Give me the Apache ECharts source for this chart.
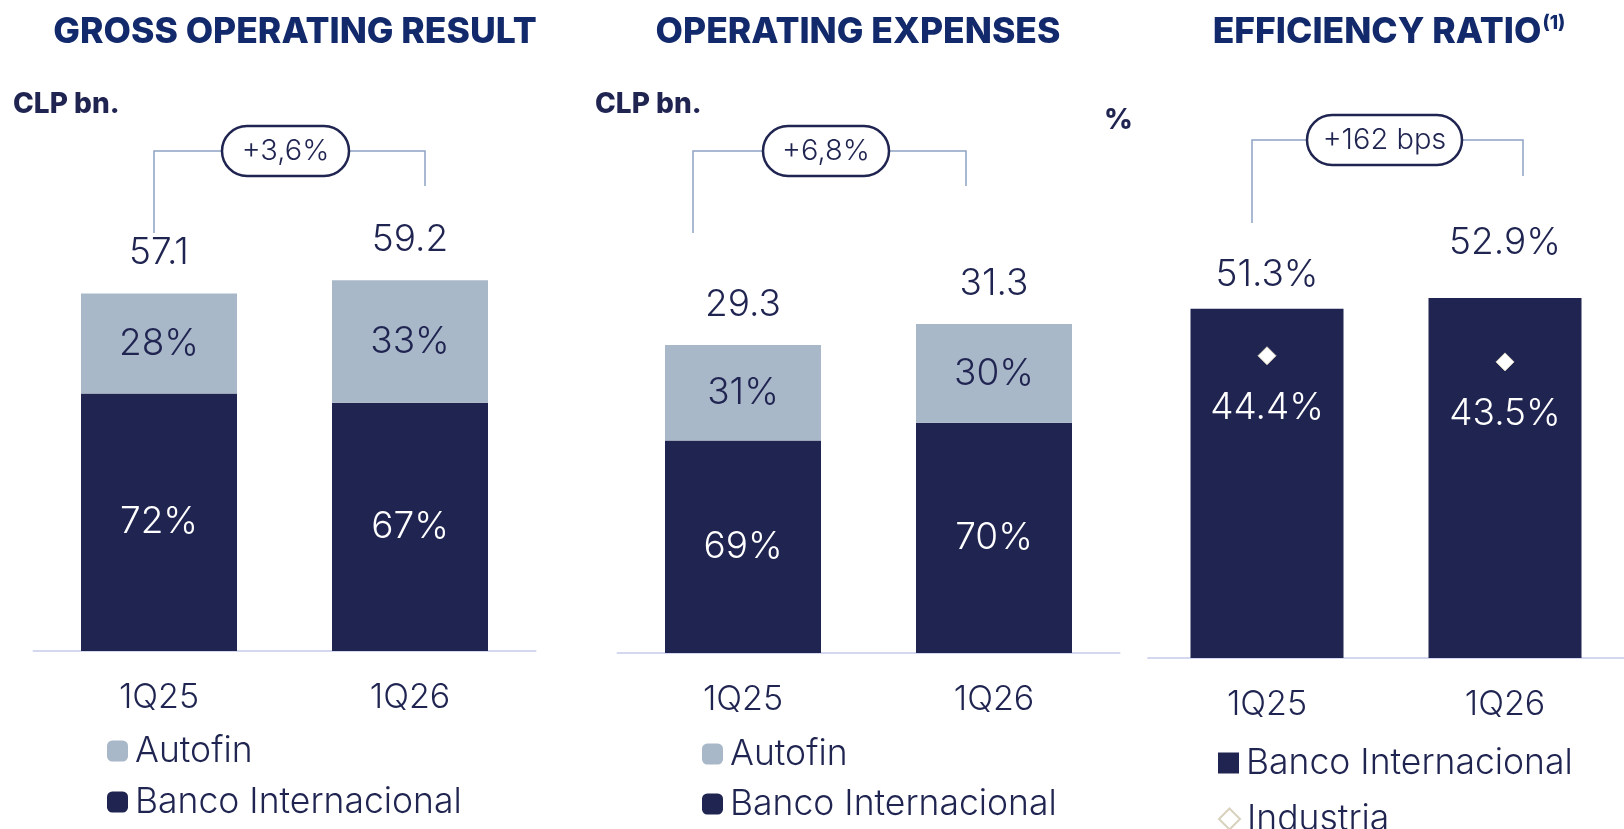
<!DOCTYPE html>
<html>
<head>
<meta charset="utf-8">
<script src="https://cdn.jsdelivr.net/npm/echarts@6/dist/echarts.min.js"></script>
<style>
  html, body { margin: 0; padding: 0; background: #fff; }
  #chart { width: 1624px; height: 829px; }
</style>
</head>
<body>
<div id="chart"></div>
<script>
const QUARTERS = ['1Q25', '1Q26'];
const GROSS_TOTAL = [57.1, 59.2];
const GROSS_BANCO_SHARE = [72, 67];
const GROSS_AUTOFIN_SHARE = [28, 33];
const OPEX_TOTAL = [29.3, 31.3];
const OPEX_BANCO_SHARE = [69, 70];
const OPEX_AUTOFIN_SHARE = [31, 30];
const EFFICIENCY_BANCO = [51.3, 52.9];
const EFFICIENCY_INDUSTRIA = [44.4, 43.5];
const CHANGE_LABELS = ['+3,6%', '+6,8%', '+162 bps'];

(function () {
  'use strict';

  const NAVY = '#1f2450';
  const TITLE = '#122a6b';
  const GREY = '#a9b8c9';
  const BRACKET = '#8ea2c4';
  const AXIS = '#d3d8ef';
  const FONT = 'Inter, "Noto Sans", sans-serif';

  const chart = echarts.init(document.getElementById('chart'));

  /** Banco = total * participación; Autofin completa el total apilado. */
  function split(total, share) {
    const banco = total.map((t, i) => +(t * share[i] / 100).toFixed(2));
    const autofin = total.map((t, i) => +(t - banco[i]).toFixed(2));
    return { banco, autofin };
  }

  const gross = split(GROSS_TOTAL, GROSS_BANCO_SHARE);
  const opex = split(OPEX_TOTAL, OPEX_BANCO_SHARE);

  const valueLabel = { color: NAVY, fontFamily: FONT, fontSize: 37, fontWeight: 300 };

  function stackedSeries(index, parts, totals, shares, autofinShares) {
    return [
      {
        name: 'Banco Internacional',
        type: 'bar',
        stack: 's' + index,
        xAxisIndex: index,
        yAxisIndex: index,
        barWidth: 156,
        itemStyle: { color: NAVY },
        label: {
          show: true,
          position: 'inside',
          ...valueLabel,
          color: '#fff',
          formatter: (p) => shares[p.dataIndex] + '%',
        },
        data: parts.banco,
      },
      {
        name: 'Autofin',
        type: 'bar',
        stack: 's' + index,
        xAxisIndex: index,
        yAxisIndex: index,
        barWidth: 156,
        itemStyle: { color: GREY },
        label: {
          show: true,
          position: 'inside',
          ...valueLabel,
          formatter: (p) => autofinShares[p.dataIndex] + '%',
        },
        data: parts.autofin,
      },
      {
        // total encima de la barra apilada
        name: 'total' + index,
        type: 'bar',
        stack: 's' + index,
        xAxisIndex: index,
        yAxisIndex: index,
        barWidth: 156,
        itemStyle: { color: 'transparent' },
        label: {
          show: true,
          position: 'insideBottom',
          distance: 22,
          ...valueLabel,
          formatter: (p) => totals[p.dataIndex].toFixed(1),
        },
        data: totals.map(() => 0.001),
        silent: true,
      },
    ];
  }

  const grids = [
    { left: 33.5, width: 502, top: 150, bottom: 178 },
    { left: 617.5, width: 502, top: 232.6, bottom: 176 },
    { left: 1148, width: 490, top: 181.5, bottom: 171 },
  ];
  const yMax = [80, 40, 70];

  const xAxis = grids.map((g, i) => ({
    type: 'category',
    gridIndex: i,
    data: QUARTERS,
    axisLine: { lineStyle: { color: AXIS, width: 2 } },
    axisTick: { show: false },
    axisLabel: { color: NAVY, fontFamily: FONT, fontSize: 34, fontWeight: 300, margin: 30 },
  }));

  const yAxis = grids.map((g, i) => ({
    type: 'value',
    gridIndex: i,
    min: 0,
    max: yMax[i],
    show: false,
  }));

  // Una leyenda por elemento para fijar la posición vertical de cada uno
  function legendItem(name, left, centerY, icon) {
    return {
      orient: 'vertical',
      left,
      top: centerY - 17,
      padding: 0,
      itemWidth: 21,
      itemHeight: 21,
      selectedMode: false,
      textStyle: {
        color: NAVY,
        fontFamily: FONT,
        fontSize: 35.5,
        fontWeight: 300,
        lineHeight: 34,
        padding: [0, 0, 0, 2],
      },
      data: [icon ? { name, icon } : name],
    };
  }

  // Etiquetas del % eficiencia: la segunda está más alta en el original
  const efficiencyLabelGap = [15, 37];

  const titleStyle = { color: TITLE, fontFamily: FONT, fontWeight: 800, fontSize: 35.5 };

  const option = {
    animation: false,
    backgroundColor: '#fff',
    title: [
      { text: 'GROSS OPERATING RESULT', left: 290, top: 9, textAlign: 'center' },
      { text: 'OPERATING EXPENSES', left: 853, top: 9, textAlign: 'center' },
      {
        text: '{t|EFFICIENCY RATIO}{s|(1)}',
        left: 1384,
        top: 9,
        textAlign: 'center',
      },
      { text: 'CLP bn.', left: 8, top: 86, unit: true },
      { text: 'CLP bn.', left: 590, top: 86, unit: true },
      { text: '%', left: 1099, top: 102, unit: true },
    ].map((t) => ({
      text: t.text,
      left: t.left,
      top: t.top,
      textAlign: t.textAlign,
      textStyle: t.unit
        ? { color: NAVY, fontFamily: FONT, fontWeight: 800, fontSize: 28 }
        : {
            ...titleStyle,
            rich: {
              t: titleStyle,
              s: {
                ...titleStyle,
                fontSize: 19,
                verticalAlign: 'top',
                padding: [0, 0, 18, 1],
              },
            },
          },
    })),
    legend: [
      legendItem('Autofin', 107, 750),
      legendItem('Banco Internacional', 107, 801),
      legendItem('Autofin', 702, 753),
      legendItem('Banco Internacional', 702, 803),
      legendItem('Banco Internacional', 1218, 762, 'rect'),
      legendItem('Industria', 1218, 818, 'diamond'),
    ],
    grid: grids,
    xAxis,
    yAxis,
    series: [
      ...stackedSeries(0, gross, GROSS_TOTAL, GROSS_BANCO_SHARE, GROSS_AUTOFIN_SHARE),
      ...stackedSeries(1, opex, OPEX_TOTAL, OPEX_BANCO_SHARE, OPEX_AUTOFIN_SHARE),
      {
        name: 'Banco Internacional',
        type: 'bar',
        xAxisIndex: 2,
        yAxisIndex: 2,
        barWidth: 153,
        itemStyle: { color: NAVY },
        data: EFFICIENCY_BANCO.map((v, i) => ({
          value: v,
          label: { distance: efficiencyLabelGap[i] },
        })),
        label: {
          show: true,
          position: 'top',
          ...valueLabel,
          formatter: (p) => p.value.toFixed(1) + '%',
        },
      },
      {
        name: 'Industria',
        type: 'scatter',
        xAxisIndex: 2,
        yAxisIndex: 2,
        symbol: 'diamond',
        symbolSize: 18,
        itemStyle: { color: '#fff', borderColor: '#d8d1bd', borderWidth: 1, opacity: 1 },
        data: EFFICIENCY_INDUSTRIA,
        label: {
          show: true,
          position: 'bottom',
          distance: 24,
          ...valueLabel,
          color: '#fff',
          formatter: (p) => p.value.toFixed(1) + '%',
        },
        z: 5,
      },
    ],
  };

  // Corchetes de variación con su píldora
  const brackets = [
    { pts: [[154, 233], [154, 151], [425, 151], [425, 186]], pill: [222, 126, 127, 50] },
    { pts: [[693, 233], [693, 151], [966, 151], [966, 186]], pill: [763, 126, 126, 50] },
    { pts: [[1252, 223], [1252, 140], [1523, 140], [1523, 176]], pill: [1307, 115, 155, 50] },
  ];

  option.graphic = brackets.flatMap((b, i) => [
    {
      type: 'polyline',
      shape: { points: b.pts },
      style: { stroke: BRACKET, lineWidth: 1.5, fill: null },
      z: 10,
    },
    {
      type: 'rect',
      shape: { x: b.pill[0], y: b.pill[1], width: b.pill[2], height: b.pill[3], r: b.pill[3] / 2 },
      style: { fill: '#fff', stroke: NAVY, lineWidth: 2.5 },
      z: 11,
    },
    {
      type: 'text',
      x: b.pill[0] + b.pill[2] / 2,
      y: b.pill[1] + b.pill[3] / 2,
      style: {
        text: CHANGE_LABELS[i],
        fill: NAVY,
        font: '300 29px ' + FONT,
        align: 'center',
        verticalAlign: 'middle',
      },
      z: 12,
    },
  ]);

  chart.setOption(option);
})();
</script>
</body>
</html>
